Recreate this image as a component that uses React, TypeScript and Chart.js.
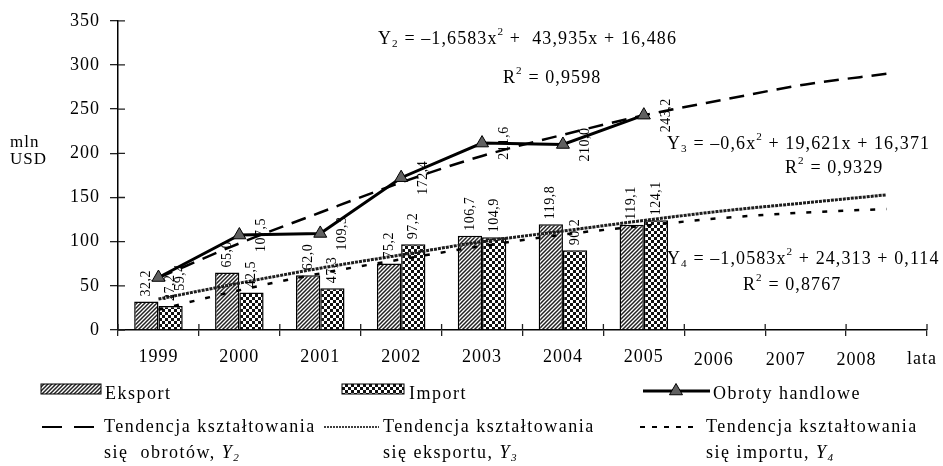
import React, { useEffect, useRef } from 'react';
import { Chart, registerables } from 'chart.js';

Chart.register(...registerables);

const years = ['1999', '2000', '2001', '2002', '2003', '2004', '2005', '2006', '2007', '2008'];
const eksport = [32.2, 65.0, 62.0, 75.2, 106.7, 119.8, 119.1, null, null, null];
const importVals = [27.2, 42.5, 47.3, 97.2, 104.9, 90.2, 124.1, null, null, null];
const obroty = [59.4, 107.5, 109.3, 172.4, 211.6, 210.0, 243.2, null, null, null];
const trendObroty = [59, 98, 133, 167, 197, 221, 243, 261, 278, 290];
const trendEksport = [35, 53, 70, 85, 100, 112, 124, 135, 144, 153];
const trendImport = [23, 45, 64, 80, 95, 108, 118, 127, 133, 137];
const yTicks = [0, 50, 100, 150, 200, 250, 300, 350];

const FONT = '"Liberation Serif", "Times New Roman", serif';

type Seg = { t: string; k?: 'sup' | 'sub'; i?: boolean };

function drawRich(ctx: CanvasRenderingContext2D, x: number, y: number, segs: Seg[], size: number) {
  let cx = x;
  ctx.textAlign = 'left';
  ctx.textBaseline = 'middle';
  for (const s of segs) {
    const fs = s.k ? size * 0.62 : size;
    ctx.font = `${s.i ? 'italic ' : ''}${fs}px ${FONT}`;
    const dy = s.k === 'sup' ? -size * 0.36 : s.k === 'sub' ? size * 0.26 : 0;
    ctx.fillText(s.t, cx, y + dy);
    cx += ctx.measureText(s.t).width;
  }
  return cx;
}

const fmt = (v: number) => v.toFixed(1).replace('.', ',');

function makeHatch(): CanvasPattern {
  const c = document.createElement('canvas');
  c.width = 4;
  c.height = 4;
  const g = c.getContext('2d')!;
  g.fillStyle = '#fff';
  g.fillRect(0, 0, 4, 4);
  g.strokeStyle = '#222';
  g.lineWidth = 1.5;
  g.beginPath();
  g.moveTo(-1, 5);
  g.lineTo(5, -1);
  g.moveTo(-1, 1);
  g.lineTo(1, -1);
  g.moveTo(3, 5);
  g.lineTo(5, 3);
  g.stroke();
  return g.createPattern(c, 'repeat')!;
}

function makeChecker(): CanvasPattern {
  const c = document.createElement('canvas');
  c.width = 6;
  c.height = 6;
  const g = c.getContext('2d')!;
  g.fillStyle = '#111';
  g.fillRect(0, 0, 6, 6);
  g.fillStyle = '#fff';
  g.fillRect(0, 0, 3, 3);
  g.fillRect(3, 3, 3, 3);
  return g.createPattern(c, 'repeat')!;
}

function makeOverlay(hatch: CanvasPattern, checker: CanvasPattern) {
  return {
    id: 'overlay',
    beforeDraw(chart: any) {
      chart.ctx.letterSpacing = '1px';
    },
    afterDatasetsDraw(chart: any) {
      const ctx: CanvasRenderingContext2D = chart.ctx;
      ctx.save();
      ctx.font = `14px ${FONT}`;
      ctx.fillStyle = '#000';
      ctx.letterSpacing = '0.5px';
      [0, 1].forEach((di) => {
        const meta = chart.getDatasetMeta(di);
        meta.data.forEach((el: any, i: number) => {
          const v = chart.data.datasets[di].data[i];
          if (v == null) return;
          ctx.save();
          ctx.translate(el.x, el.y - 5);
          ctx.rotate(-Math.PI / 2);
          ctx.textAlign = 'left';
          ctx.textBaseline = 'middle';
          ctx.fillText(fmt(v), 0, 0);
          ctx.restore();
        });
      });
      const lm = chart.getDatasetMeta(2);
      lm.data.forEach((el: any, i: number) => {
        const v = chart.data.datasets[2].data[i];
        if (v == null) return;
        ctx.save();
        ctx.translate(el.x + 22, el.y);
        ctx.rotate(-Math.PI / 2);
        ctx.textAlign = 'center';
        ctx.textBaseline = 'middle';
        ctx.fillText(fmt(v), 0, 0);
        ctx.restore();
      });
      ctx.restore();
    },
    afterDraw(chart: any) {
      const ctx: CanvasRenderingContext2D = chart.ctx;
      const xs = chart.scales.x;
      const ys = chart.scales.y;
      const area = chart.chartArea;
      ctx.save();
      ctx.strokeStyle = '#222';
      ctx.lineWidth = 1.3;
      ctx.beginPath();
      ys.ticks.forEach((_t: any, i: number) => {
        const y = ys.getPixelForTick(i);
        ctx.moveTo(area.left, y);
        ctx.lineTo(area.left + 7, y);
      });
      const cw = (area.right - area.left) / years.length;
      for (let i = 0; i <= years.length; i++) {
        const x = xs.getPixelForValue(0) - cw / 2 + i * cw;
        ctx.moveTo(x, area.bottom);
        ctx.lineTo(x, area.bottom - 6);
      }
      ctx.stroke();

      ctx.fillStyle = '#000';
      ctx.letterSpacing = '1px';
      ctx.font = `18px ${FONT}`;
      ctx.textAlign = 'center';
      ctx.textBaseline = 'middle';
      const shifts = [-11, -20, -30];
      [7, 8, 9].forEach((idx, k) => {
        ctx.fillText(years[idx], xs.getPixelForValue(idx) + shifts[k], 360);
      });
      ctx.fillText('lata', area.right - 5, 359);

      ctx.font = `17px ${FONT}`;
      ctx.textAlign = 'left';
      ctx.fillText('mln', 10, 143);
      ctx.fillText('USD', 10, 160);

      ctx.letterSpacing = '1.1px';
      const S = 18;
      drawRich(ctx, 378, 39, [
        { t: 'Y' }, { t: '2', k: 'sub' }, { t: ' = –1,6583x' }, { t: '2', k: 'sup' }, { t: ' +  43,935x + 16,486' },
      ], S);
      drawRich(ctx, 503, 78, [{ t: 'R' }, { t: '2', k: 'sup' }, { t: ' = 0,9598' }], S);
      drawRich(ctx, 667, 144, [
        { t: 'Y' }, { t: '3', k: 'sub' }, { t: ' = –0,6x' }, { t: '2', k: 'sup' }, { t: ' + 19,621x + 16,371' },
      ], S);
      drawRich(ctx, 785, 168, [{ t: 'R' }, { t: '2', k: 'sup' }, { t: ' = 0,9329' }], S);
      drawRich(ctx, 667, 259, [
        { t: 'Y' }, { t: '4', k: 'sub' }, { t: ' = –1,0583x' }, { t: '2', k: 'sup' }, { t: ' + 24,313 + 0,114' },
      ], S);
      drawRich(ctx, 743, 285, [{ t: 'R' }, { t: '2', k: 'sup' }, { t: ' = 0,8767' }], S);

      ctx.letterSpacing = '1.5px';
      const L = 18;
      ctx.lineWidth = 1;
      ctx.strokeStyle = '#000';
      ctx.fillStyle = hatch;
      ctx.fillRect(41, 384, 60, 10);
      ctx.strokeRect(41, 384, 60, 10);
      ctx.fillStyle = checker;
      ctx.fillRect(342, 384, 62, 10);
      ctx.strokeRect(342, 384, 62, 10);
      ctx.fillStyle = '#000';
      drawRich(ctx, 105, 394, [{ t: 'Eksport' }], L);
      drawRich(ctx, 409, 394, [{ t: 'Import' }], L);
      ctx.lineWidth = 3;
      ctx.beginPath();
      ctx.moveTo(643, 391);
      ctx.lineTo(710, 391);
      ctx.stroke();
      const r = 7.5;
      ctx.beginPath();
      ctx.moveTo(676, 391 - r);
      ctx.lineTo(676 + r * 0.866, 391 + r * 0.5);
      ctx.lineTo(676 - r * 0.866, 391 + r * 0.5);
      ctx.closePath();
      ctx.fillStyle = '#606060';
      ctx.fill();
      ctx.lineWidth = 1;
      ctx.stroke();
      ctx.fillStyle = '#000';
      drawRich(ctx, 713, 394, [{ t: 'Obroty handlowe' }], L);

      const r1 = 427;
      const r2 = 453;
      ctx.lineWidth = 2;
      ctx.setLineDash([20, 12]);
      ctx.beginPath();
      ctx.moveTo(42, r1);
      ctx.lineTo(94, r1);
      ctx.stroke();
      ctx.setLineDash([2, 1]);
      ctx.lineWidth = 1.5;
      ctx.beginPath();
      ctx.moveTo(324, r1);
      ctx.lineTo(379, r1);
      ctx.stroke();
      ctx.setLineDash([5, 7]);
      ctx.lineWidth = 2;
      ctx.beginPath();
      ctx.moveTo(640, r1);
      ctx.lineTo(700, r1);
      ctx.stroke();
      ctx.setLineDash([]);
      drawRich(ctx, 104, r1, [{ t: 'Tendencja kształtowania' }], L);
      drawRich(ctx, 104, r2, [{ t: 'się  obrotów, ' }, { t: 'Y', i: true }, { t: '2', k: 'sub', i: true }], L);
      drawRich(ctx, 383, r1, [{ t: 'Tendencja kształtowania' }], L);
      drawRich(ctx, 383, r2, [{ t: 'się eksportu, ' }, { t: 'Y', i: true }, { t: '3', k: 'sub', i: true }], L);
      drawRich(ctx, 706, r1, [{ t: 'Tendencja kształtowania' }], L);
      drawRich(ctx, 706, r2, [{ t: 'się importu, ' }, { t: 'Y', i: true }, { t: '4', k: 'sub', i: true }], L);
      ctx.restore();
    },
  };
}

export default function App() {
  const ref = useRef<HTMLCanvasElement | null>(null);
  useEffect(() => {
    if (!ref.current) return;
    const hatch = makeHatch();
    const checker = makeChecker();
    const chart = new Chart(ref.current, {
      type: 'bar',
      data: {
        labels: years,
        datasets: [
          {
            type: 'bar',
            label: 'Eksport',
            data: eksport as any,
            backgroundColor: hatch as any,
            borderColor: '#000',
            borderWidth: 1.5,
            categoryPercentage: 0.6,
            barPercentage: 1.0,
            order: 5,
          },
          {
            type: 'bar',
            label: 'Import',
            data: importVals as any,
            backgroundColor: checker as any,
            borderColor: '#000',
            borderWidth: 1.5,
            categoryPercentage: 0.6,
            barPercentage: 1.0,
            order: 5,
          },
          {
            type: 'line',
            label: 'Obroty handlowe',
            data: obroty as any,
            borderColor: '#000',
            borderWidth: 3,
            pointStyle: 'triangle',
            pointRadius: 7.5,
            pointBackgroundColor: '#606060',
            pointBorderColor: '#000',
            pointBorderWidth: 1,
            spanGaps: false,
            order: 1,
          },
          {
            type: 'line',
            label: 'Tendencja obrotów',
            data: trendObroty,
            borderColor: '#000',
            borderWidth: 2.5,
            borderDash: [15, 9],
            pointRadius: 0,
            cubicInterpolationMode: 'monotone',
            order: 3,
          },
          {
            type: 'line',
            label: 'Tendencja eksportu',
            data: trendEksport,
            borderColor: '#1e1e1e',
            borderWidth: 3,
            borderDash: [3, 1],
            pointRadius: 0,
            cubicInterpolationMode: 'monotone',
            order: 3,
          },
          {
            type: 'line',
            label: 'Tendencja importu',
            data: trendImport,
            borderColor: '#000',
            borderWidth: 2.5,
            borderDash: [5, 11],
            pointRadius: 0,
            cubicInterpolationMode: 'monotone',
            order: 3,
          },
        ],
      },
      options: {
        responsive: false,
        animation: false,
        layout: { padding: { top: 19, right: 16, left: 0, bottom: 0 } },
        plugins: { legend: { display: false }, tooltip: { enabled: false } },
        scales: {
          x: {
            afterFit: (s: any) => {
              s.height = 136;
            },
            grid: { display: true, drawOnChartArea: false, drawTicks: true, tickLength: 6, color: '#222', lineWidth: 1.3, offset: true },
            border: { display: true, color: '#000', width: 1.5 },
            ticks: {
              autoSkip: false,
              maxRotation: 0,
              padding: 10,
              color: '#000',
              font: { family: FONT, size: 18 },
              callback: (_v: any, idx: number) => (idx < 7 ? years[idx] : ''),
            },
          },
          y: {
            min: 0,
            max: 350,
            afterFit: (s: any) => {
              s.width = 118;
            },
            afterBuildTicks: (s: any) => {
              s.ticks = yTicks.map((v) => ({ value: v }));
            },
            grid: { display: true, drawOnChartArea: false, drawTicks: true, tickLength: 8, color: '#222', lineWidth: 1.3 },
            border: { display: true, color: '#000', width: 1.5 },
            ticks: {
              padding: 10,
              color: '#000',
              font: { family: FONT, size: 18 },
            },
          },
        },
      },
      plugins: [makeOverlay(hatch, checker) as any],
    });
    return () => chart.destroy();
  }, []);
  return (
    <div style={{ position: 'absolute', left: 0, top: 0, width: 943, height: 466, background: '#fff' }}>
      <canvas ref={ref} width={943} height={466} style={{ display: 'block' }} />
    </div>
  );
}
